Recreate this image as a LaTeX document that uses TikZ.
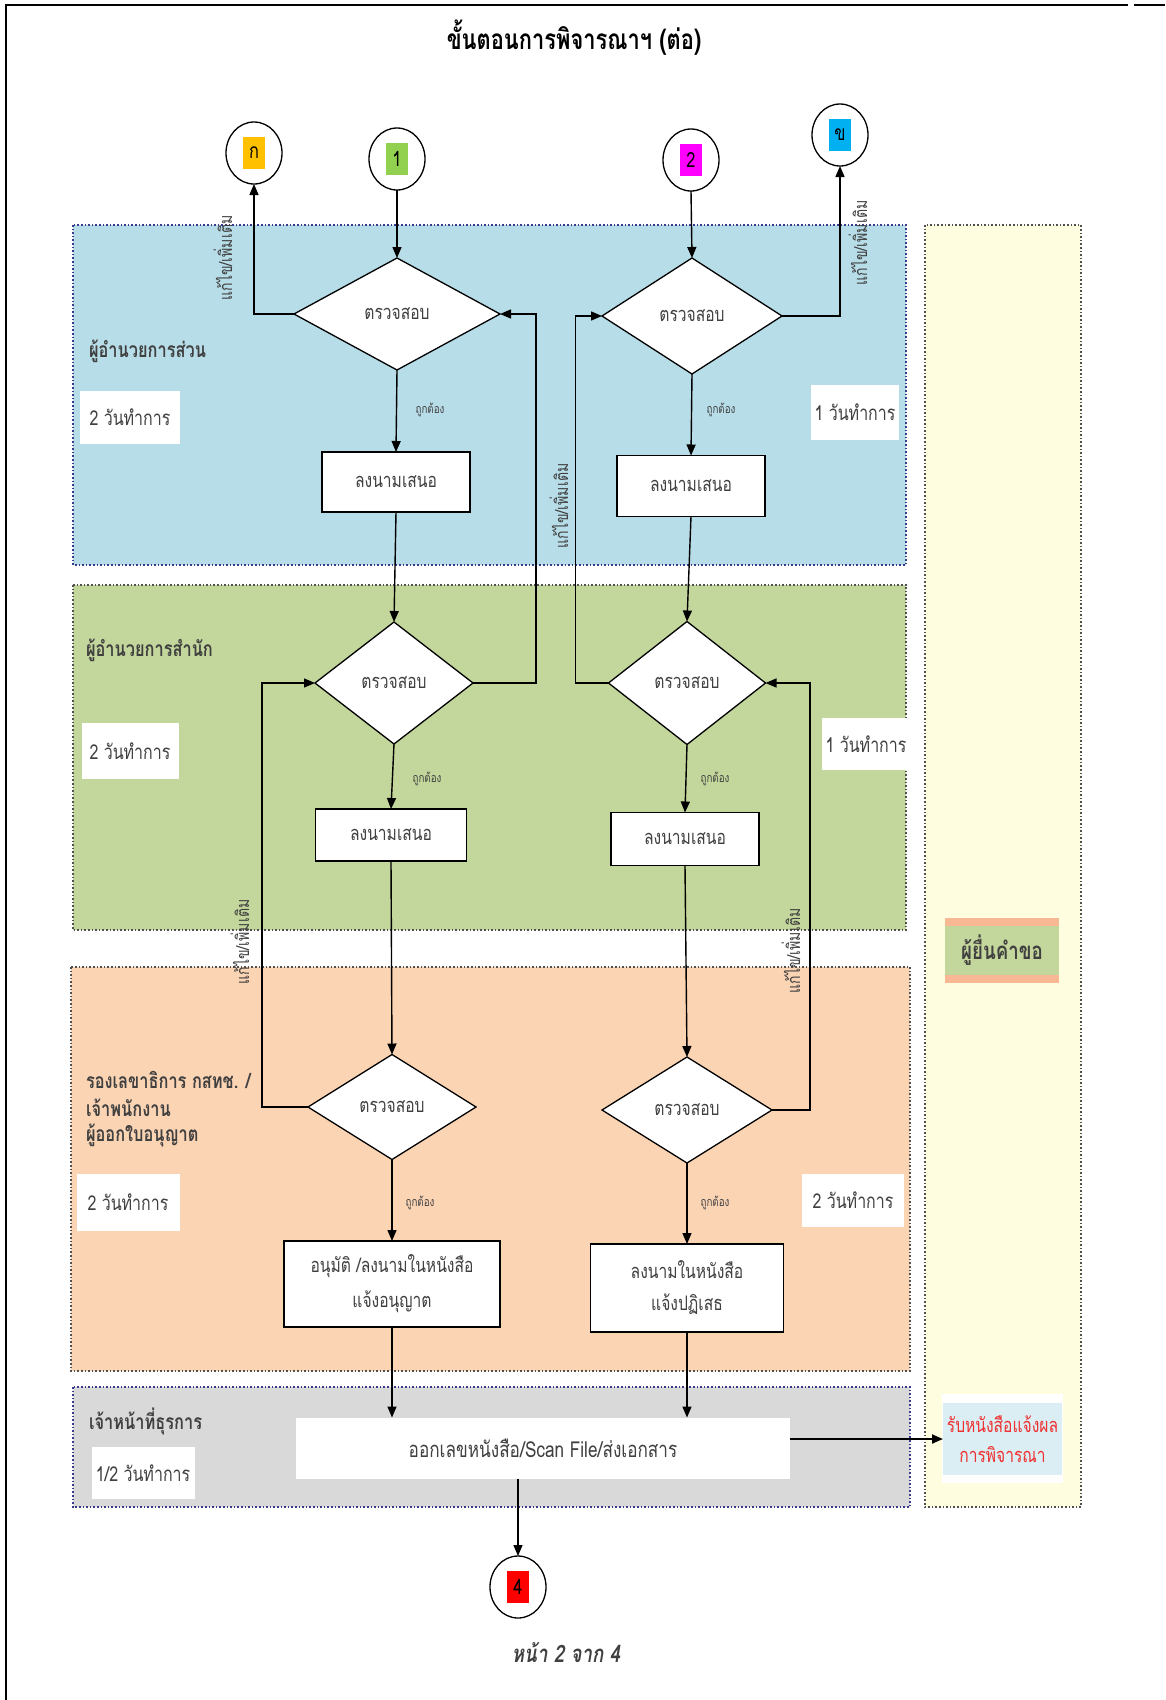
\documentclass[tikz,border=0pt]{standalone}
\usepackage{fontspec}
\setmainfont[Script=Thai,FakeStretch=0.78]{Loma}
\usetikzlibrary{shapes.geometric,arrows.meta,calc}
\definecolor{laneblue}{HTML}{B7DDE8}
\definecolor{lanegreen}{HTML}{C3D69B}
\definecolor{laneorange}{HTML}{FBD4B4}
\definecolor{lanegray}{HTML}{D9D9D9}
\definecolor{laneyellow}{HTML}{FFFDE0}
\definecolor{resblue}{HTML}{DAEEF3}
\definecolor{tagorange}{HTML}{FFC000}
\definecolor{taggreen}{HTML}{92D050}
\definecolor{tagmagenta}{HTML}{FF00FF}
\definecolor{tagcyan}{HTML}{00B0F0}
\definecolor{tagred}{HTML}{FF0000}
\definecolor{bandorange}{HTML}{F8B894}
\definecolor{txtgray}{HTML}{404040}
\definecolor{bordblue}{HTML}{3A3A8C}
\definecolor{bordgray}{HTML}{505050}
\definecolor{redtxt}{HTML}{F03030}
\newcommand\fs[1]{\fontsize{#1}{#1}\selectfont}
\begin{document}
\begin{tikzpicture}[x=1pt,y=-1pt,
  every node/.style={inner sep=0pt,outer sep=0pt},
  lanebg/.style={fill=#1},
  laneedge/.style={draw=#1,dotted,line width=1.6pt},
  conn/.style={draw,ellipse,fill=white,line width=1.3pt,minimum width=56pt,minimum height=62pt},
  tag/.style={fill=#1,minimum width=22pt,minimum height=32pt,font=\fs{21}},
  check/.style={diamond,draw,fill=white,line width=1.3pt,font=\fs{20}\color{txtgray}},
  procbox/.style={draw,fill=white,line width=1.8pt,align=center,font=\fs{20}\color{txtgray}},
  timebox/.style={fill=white,align=center,font=\fs{20.5}\color{txtgray}},
  lanelabel/.style={anchor=west,align=left,font=\bfseries\fs{21}\color{txtgray}},
  oklabel/.style={font=\fs{12.5}\color{txtgray}},
  fixlabel/.style={rotate=90,font=\fs{18}\color{txtgray}},
  flow/.style={line width=1.4pt,-{Triangle[length=11pt,width=9pt]}}
]
\useasboundingbox (0,0) rectangle (1165,1700);
% page frame
\draw[line width=2pt] (6,1700) -- (6,5) -- (1128,5);
\draw[line width=2pt] (1134,5) -- (1165,5);
% title
\node[font=\bfseries\fs{28}] (title) at (574,38) {ขั้นตอนการพิจารณาฯ (ต่อ)};
% lanes
\fill[lanebg=laneblue] (73,225) rectangle (906,565);
\fill[lanebg=lanegreen] (73,585) rectangle (906,930);
\fill[lanebg=laneorange] (71,967) rectangle (910,1371);
\fill[lanebg=lanegray] (73,1387) rectangle (910,1507);
\fill[lanebg=laneyellow] (925,225) rectangle (1081,1507);
\draw[laneedge=bordblue] (73,225) rectangle (906,565);
\draw[laneedge=bordgray] (73,585) rectangle (906,930);
\draw[laneedge=bordgray] (71,967) rectangle (910,1371);
\draw[laneedge=bordblue] (73,1387) rectangle (910,1507);
\draw[laneedge=bordgray] (925,225) rectangle (1081,1507);
% lane labels
\node[lanelabel] (l1) at (89,351) {ผู้อำนวยการส่วน};
\node[lanelabel] (l2) at (86,650) {ผู้อำนวยการสำนัก};
\node[lanelabel] (l3a) at (86,1080) {รองเลขาธิการ กสทช. /};
\node[lanelabel] (l3b) at (86,1108) {เจ้าพนักงาน};
\node[lanelabel] (l3c) at (86,1135) {ผู้ออกใบอนุญาต};
\node[lanelabel] (l4) at (89,1421) {เจ้าหน้าที่ธุรการ};
% time boxes
\node[timebox,minimum width=100pt,minimum height=53pt] (t1) at (130,417) {2 วันทำการ};
\node[timebox,minimum width=88pt,minimum height=55pt] (t2) at (855,412) {1 วันทำการ};
\node[timebox,minimum width=97pt,minimum height=56pt] (t3) at (130,751) {2 วันทำการ};
\node[timebox,minimum width=89pt,minimum height=52pt] (t4) at (866,744) {1 วันทำการ};
\node[timebox,minimum width=103pt,minimum height=57pt] (t5) at (128,1202) {2 วันทำการ};
\node[timebox,minimum width=102pt,minimum height=53pt] (t6) at (853,1200) {2 วันทำการ};
\node[timebox,minimum width=103pt,minimum height=52pt] (t7) at (143,1473) {1/2 วันทำการ};
% applicant label
\node[fill=bandorange,minimum width=114pt,minimum height=65pt] (app) at (1002,950) {};
\node[fill=lanegreen,minimum width=114pt,minimum height=49pt,font=\bfseries\fs{24}\color{txtgray}] (appt) at (1002,950) {ผู้ยื่นคำขอ};
% connectors (circles)
\node[conn] (cA) at (254,153) {};
\node[tag=tagorange] (tA) at (cA) {ก};
\node[conn] (c1) at (397,159) {};
\node[tag=taggreen] (t1c) at (c1) {1};
\node[conn] (c2) at (691,160) {};
\node[tag=tagmagenta] (t2c) at (c2) {2};
\node[conn] (cB) at (840,135) {};
\node[tag=tagcyan] (tB) at (cB) {ข};
\node[conn] (c4) at (518,1587) {};
\node[tag=tagred] (t4c) at (c4) {4};
% decisions
\node[check,minimum width=206pt,minimum height=112pt] (d1) at (397,314) {ตรวจสอบ};
\node[check,minimum width=180pt,minimum height=116pt] (d2) at (692,316) {ตรวจสอบ};
\node[check,minimum width=158pt,minimum height=122pt] (d3) at (394,683) {ตรวจสอบ};
\node[check,minimum width=157pt,minimum height=123pt] (d4) at (687,683) {ตรวจสอบ};
\node[check,minimum width=168pt,minimum height=105pt] (d5) at (392,1107) {ตรวจสอบ};
\node[check,minimum width=170pt,minimum height=106pt] (d6) at (687,1110) {ตรวจสอบ};
% process boxes
\node[procbox,minimum width=148pt,minimum height=60pt] (b1) at (396,482) {ลงนามเสนอ};
\node[procbox,minimum width=148pt,minimum height=61pt] (b2) at (691,486) {ลงนามเสนอ};
\node[procbox,minimum width=151pt,minimum height=52pt] (b3) at (391,835) {ลงนามเสนอ};
\node[procbox,minimum width=148pt,minimum height=53pt] (b4) at (685,839) {ลงนามเสนอ};
\node[procbox,minimum width=216pt,minimum height=86pt] (b5) at (392,1284) {อนุมัติ /ลงนามในหนังสือ\\[12pt]แจ้งอนุญาต};
\node[procbox,minimum width=193pt,minimum height=88pt] (b6) at (687,1288) {ลงนามในหนังสือ\\[12pt]แจ้งปฏิเสธ};
\node[fill=white,minimum width=494pt,minimum height=61pt,font=\fs{22}\color{txtgray}] (b7) at (543,1448) {ออกเลขหนังสือ/Scan File/ส่งเอกสาร};
% result
\node[fill=white,minimum width=121pt,minimum height=89pt] (resw) at (1002.5,1438) {};
\node[fill=resblue,minimum width=119pt,minimum height=72pt,align=center,font=\fs{20}\color{redtxt}] (res) at (1002.5,1439) {รับหนังสือแจ้งผล\\[10pt]การพิจารณา};
% flows
\draw[flow] (c1.south) -- (d1.north);
\draw[flow] (c2.south) -- (d2.north);
\draw[flow] (d1.west) -| (cA.south);
\draw[flow] (d2.east) -| (cB.south);
\draw[flow] (d1.south) -- (b1.north);
\draw[flow] (d2.south) -- (b2.north);
\draw[flow] (b1.south) -- (d3.north);
\draw[flow] (b2.south) -- (d4.north);
\draw[flow] (d3.east) -- ++(63,0) |- (d1.east);
\draw[flow] (d4.west) -- ++(-33,0) |- (d2.west);
\draw[flow] (d3.south) -- (b3.north);
\draw[flow] (d4.south) -- (b4.north);
\draw[flow] (b3.south) -- (d5.north);
\draw[flow] (b4.south) -- (d6.north);
\draw[flow] (d5.west) -- ++(-46,0) |- (d3.west);
\draw[flow] (d6.east) -- ++(38,0) |- (d4.east);
\draw[flow] (d5.south) -- (b5.north);
\draw[flow] (d6.south) -- (b6.north);
\draw[flow] (b5.south) -- (b5.south |- b7.north);
\draw[flow] (b6.south) -- (b6.south |- b7.north);
\draw[flow,line width=2pt] (res.west -| b7.east) -- (res.west);
\draw[flow] (c4.north |- b7.south) -- (c4.north);
% edge labels
\node[fixlabel] (f1) at (223,258) {แก้ไข/เพิ่มเติม};
\node[fixlabel] (f2) at (858,243) {แก้ไข/เพิ่มเติม};
\node[fixlabel] (f3) at (559,506) {แก้ไข/เพิ่มเติม};
\node[fixlabel] (f4) at (240,942) {แก้ไข/เพิ่มเติม};
\node[fixlabel] (f5) at (791,951) {แก้ไข/เพิ่มเติม};
\node[oklabel] (o1) at (430,410) {ถูกต้อง};
\node[oklabel] (o2) at (721,410) {ถูกต้อง};
\node[oklabel] (o3) at (427,779) {ถูกต้อง};
\node[oklabel] (o4) at (715,779) {ถูกต้อง};
\node[oklabel] (o5) at (420,1203) {ถูกต้อง};
\node[oklabel] (o6) at (715,1203) {ถูกต้อง};
% footer
\node[font=\bfseries\itshape\fs{24}\color{txtgray}] (foot) at (566,1653) {หน้า 2 จาก 4};
\end{tikzpicture}
\end{document}
